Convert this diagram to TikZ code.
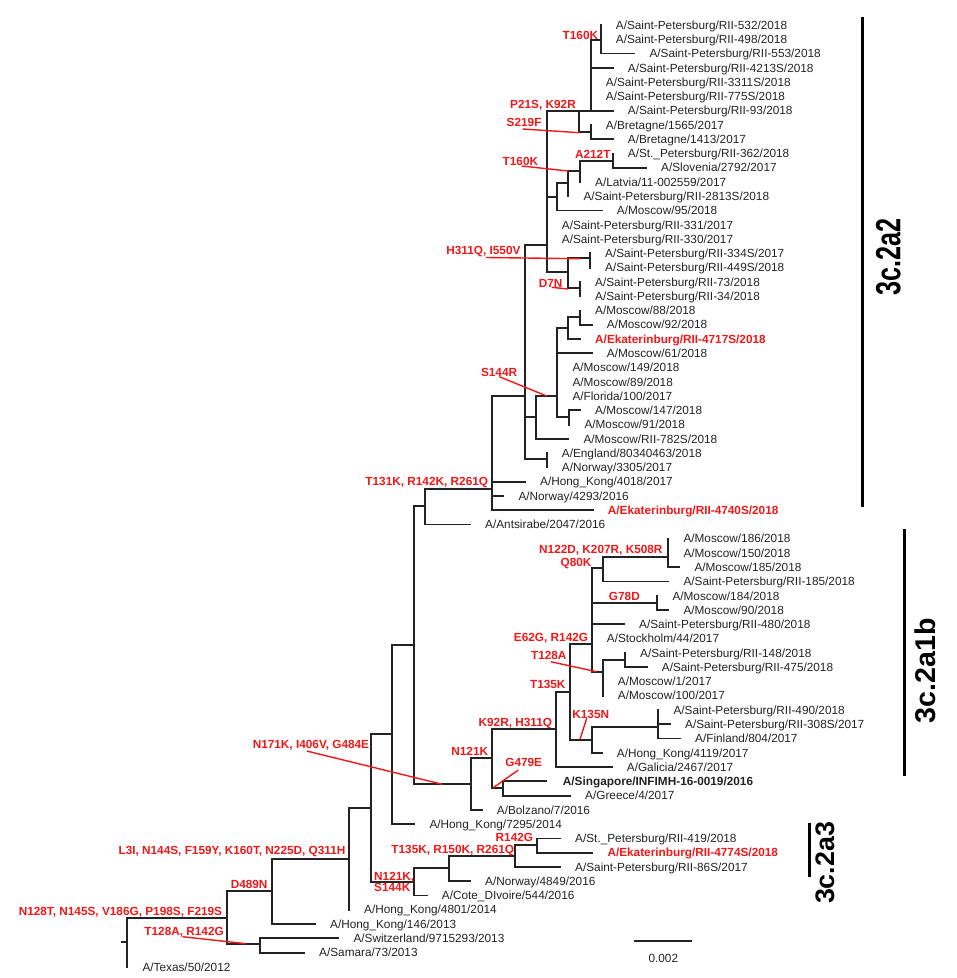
\documentclass[tikz,border=0pt]{standalone}
\usepackage{fontspec}
\setmainfont{Liberation Sans}
\definecolor{mutred}{RGB}{240,24,24}
\definecolor{treegray}{RGB}{35,35,35}
\begin{document}
\begin{tikzpicture}[x=1pt,y=-1pt,
  branch/.style={draw=treegray,line width=1.8pt,line cap=rect},
  leaf/.style={anchor=west,inner sep=0pt,text height=8.4pt,text depth=0pt,text=treegray,font=\fontsize{11.8}{14}\selectfont},
  leafred/.style={leaf,text=mutred,font=\fontsize{11.8}{14}\selectfont\bfseries},
  leafbold/.style={leaf,font=\fontsize{11.8}{14}\selectfont\bfseries},
  mut/.style={anchor=east,inner sep=0pt,text height=8.4pt,text depth=0pt,text=mutred,font=\fontsize{11.8}{14}\selectfont\bfseries},
  mutline/.style={draw=mutred,line width=1.4pt},
  cladebar/.style={draw=black,line width=3pt},
  cladetext/.style={rotate=90,inner sep=0pt,text=black}]
\useasboundingbox (0,0) rectangle (957,978);
% ---------- internal nodes ----------
\coordinate (stub) at (121.7,942);
\coordinate (nRoot) at (127.3,942);
\coordinate (nAR) at (227.3,918);
\coordinate (nAS) at (260,944);
\coordinate (nAQ) at (271.7,891);
\coordinate (nAL) at (349,858.7);
\coordinate (nAK) at (370.7,807.7);
\coordinate (nAM) at (414.3,881.7);
\coordinate (nAN) at (449,868.3);
\coordinate (nAO) at (515,856);
\coordinate (nAP) at (536.7,845);
\coordinate (nAI) at (392.3,734);
\coordinate (nAH) at (414.3,645);
\coordinate (nAG) at (425,506);
\coordinate (nAF) at (491.7,489);
\coordinate (nX) at (525,396);
\coordinate (nAE) at (546.7,459.3);
\coordinate (nAC) at (535.7,417.3);
\coordinate (nAA) at (557.3,396);
\coordinate (nY) at (568.3,328);
\coordinate (nZ) at (580,317);
\coordinate (nAB) at (569.3,417);
\coordinate (nG) at (546.7,245);
\coordinate (nP) at (579.3,110.6);
\coordinate (nQ) at (590.7,110.6);
\coordinate (nT160) at (600.7,40);
\coordinate (nBret) at (590.7,132);
\coordinate (nT) at (557.3,197);
\coordinate (nS) at (568.3,183);
\coordinate (nR) at (580,171);
\coordinate (nA212) at (612.7,161);
\coordinate (nU) at (568.3,271.7);
\coordinate (nV) at (590,258.3);
\coordinate (nW) at (580,288);
\coordinate (nAJ) at (470.7,784);
\coordinate (nAU) at (492.3,758.3);
\coordinate (nAW) at (503.3,787.7);
\coordinate (nAV) at (556,729.3);
\coordinate (nAX) at (570,691.7);
\coordinate (nBC) at (591.7,644);
\coordinate (nBB) at (602.7,568.3);
\coordinate (nBA) at (668.3,556.7);
\coordinate (nBF) at (657.3,602.7);
\coordinate (nBD) at (602.7,672);
\coordinate (nBE) at (625,660);
\coordinate (nAZ) at (591.7,740);
\coordinate (nBG) at (658.3,726.7);
% ---------- tips ----------
\coordinate (t1) at (600.7,25.0);
\coordinate (t2) at (600.7,39.3);
\coordinate (t3) at (634.3,53.5);
\coordinate (t4) at (612.7,67.8);
\coordinate (t5) at (590.7,82.1);
\coordinate (t6) at (590.7,96.4);
\coordinate (t7) at (612.7,110.6);
\coordinate (t8) at (590.7,124.9);
\coordinate (t9) at (612.7,139.2);
\coordinate (t10) at (612.7,153.4);
\coordinate (t11) at (646,167.7);
\coordinate (t12) at (580,182.0);
\coordinate (t13) at (568.3,196.2);
\coordinate (t14) at (601.7,210.5);
\coordinate (t15) at (546.7,224.8);
\coordinate (t16) at (546.7,239.1);
\coordinate (t17) at (590,253.3);
\coordinate (t18) at (590,267.6);
\coordinate (t19) at (580,281.9);
\coordinate (t20) at (580,296.1);
\coordinate (t21) at (580,310.4);
\coordinate (t22) at (591.7,324.7);
\coordinate (t23) at (580,338.9);
\coordinate (t24) at (591.7,353.2);
\coordinate (t25) at (557.3,367.5);
\coordinate (t26) at (557.3,381.8);
\coordinate (t27) at (557.3,396.0);
\coordinate (t28) at (580,410.3);
\coordinate (t29) at (569.3,424.6);
\coordinate (t30) at (568.3,438.8);
\coordinate (t31) at (546.7,453.1);
\coordinate (t32) at (546.7,467.4);
\coordinate (t33) at (525,481.6);
\coordinate (t34) at (503.3,495.9);
\coordinate (t35) at (592.7,510.2);
\coordinate (t36) at (470,524.5);
\coordinate (t37) at (668.3,538.7);
\coordinate (t38) at (668.3,553.0);
\coordinate (t39) at (679.3,567.3);
\coordinate (t40) at (668.3,581.5);
\coordinate (t41) at (657.3,595.8);
\coordinate (t42) at (668.3,610.1);
\coordinate (t43) at (624,624.3);
\coordinate (t44) at (591.7,638.6);
\coordinate (t45) at (625,652.9);
\coordinate (t46) at (646.7,667.2);
\coordinate (t47) at (602.7,681.4);
\coordinate (t48) at (602.7,695.7);
\coordinate (t49) at (658.3,710.0);
\coordinate (t50) at (670,724.2);
\coordinate (t51) at (680,738.5);
\coordinate (t52) at (601.7,752.8);
\coordinate (t53) at (611.7,767.0);
\coordinate (t54) at (545.7,781.3);
\coordinate (t55) at (570,795.6);
\coordinate (t56) at (481.7,809.9);
\coordinate (t57) at (414.3,824.1);
\coordinate (t58) at (560,838.4);
\coordinate (t59) at (592.3,852.7);
\coordinate (t60) at (560,866.9);
\coordinate (t61) at (470,881.2);
\coordinate (t62) at (426.7,895.5);
\coordinate (t63) at (349,909.7);
\coordinate (t64) at (315,924.0);
\coordinate (t65) at (338.3,938.3);
\coordinate (t66) at (304,952.6);
\coordinate (t67) at (127.3,966.8);
% ---------- branches ----------
\draw[branch] (stub) -- (nRoot);
\draw[branch] (nRoot) |- (nAR) (nRoot) |- (t67);
\draw[branch] (nAR) |- (nAQ) (nAR) |- (nAS);
\draw[branch] (nAS) |- (t65) (nAS) |- (t66);
\draw[branch] (nAQ) |- (nAL) (nAQ) |- (t64);
\draw[branch] (nAL) |- (nAK) (nAL) |- (t63);
\draw[branch] (nAK) |- (nAI) (nAK) |- (nAM);
\draw[branch] (nAM) |- (nAN) (nAM) |- (t62);
\draw[branch] (nAN) |- (nAO) (nAN) |- (t61);
\draw[branch] (nAO) |- (nAP) (nAO) |- (t60);
\draw[branch] (nAP) |- (t58) (nAP) |- (t59);
\draw[branch] (nAI) |- (nAH) (nAI) |- (t57);
\draw[branch] (nAH) |- (nAG) (nAH) |- (nAJ);
\draw[branch] (nAG) |- (nAF) (nAG) |- (t36);
\draw[branch] (nAF) |- (nX) (nAF) |- (t33) (nAF) |- (t34) (nAF) |- (t35);
\draw[branch] (nX) |- (nG) (nX) |- (nAC) (nX) |- (nAE);
\draw[branch] (nAE) |- (t31) (nAE) |- (t32);
\draw[branch] (nAC) |- (nAA) (nAC) |- (t30);
\draw[branch] (nAA) |- (nY) (nAA) |- (t24) (nAA) |- (t25) (nAA) |- (t26) (nAA) |- (t27) (nAA) |- (nAB);
\draw[branch] (nY) |- (nZ) (nY) |- (t23);
\draw[branch] (nZ) |- (t21) (nZ) |- (t22);
\draw[branch] (nAB) |- (t28) (nAB) |- (t29);
\draw[branch] (nG) |- (nP) (nG) |- (nT) (nG) |- (t15) (nG) |- (t16) (nG) |- (nU);
\draw[branch] (nP) |- (nQ) (nP) |- (nBret);
\draw[branch] (nQ) |- (nT160) (nQ) |- (t4) (nQ) |- (t5) (nQ) |- (t6) (nQ) |- (t7);
\draw[branch] (nT160) |- (t1) (nT160) |- (t2) (nT160) |- (t3);
\draw[branch] (nBret) |- (t8) (nBret) |- (t9);
\draw[branch] (nT) |- (nS) (nT) |- (t14);
\draw[branch] (nS) |- (nR) (nS) |- (t13);
\draw[branch] (nR) |- (nA212) (nR) |- (t12);
\draw[branch] (nA212) |- (t10) (nA212) |- (t11);
\draw[branch] (nU) |- (nV) (nU) |- (nW);
\draw[branch] (nV) |- (t17) (nV) |- (t18);
\draw[branch] (nW) |- (t19) (nW) |- (t20);
\draw[branch] (nAJ) |- (nAU) (nAJ) |- (t56);
\draw[branch] (nAU) |- (nAV) (nAU) |- (nAW);
\draw[branch] (nAW) |- (t54) (nAW) |- (t55);
\draw[branch] (nAV) |- (nAX) (nAV) |- (t53);
\draw[branch] (nAX) |- (nBC) (nAX) |- (nAZ);
\draw[branch] (nBC) |- (nBB) (nBC) |- (nBF) (nBC) |- (t43) (nBC) |- (t44) (nBC) |- (nBD);
\draw[branch] (nBB) |- (nBA) (nBB) |- (t40);
\draw[branch] (nBA) |- (t37) (nBA) |- (t38) (nBA) |- (t39);
\draw[branch] (nBF) |- (t41) (nBF) |- (t42);
\draw[branch] (nBD) |- (nBE) (nBD) |- (t47) (nBD) |- (t48);
\draw[branch] (nBE) |- (t45) (nBE) |- (t46);
\draw[branch] (nAZ) |- (nBG) (nAZ) |- (t52);
\draw[branch] (nBG) |- (t49) (nBG) |- (t50) (nBG) |- (t51);
% ---------- leaf labels ----------
\node[leaf] (L1) at ([xshift=15pt]t1) {A/Saint-Petersburg/RII-532/2018};
\node[leaf] (L2) at ([xshift=15pt]t2) {A/Saint-Petersburg/RII-498/2018};
\node[leaf] (L3) at ([xshift=15pt]t3) {A/Saint-Petersburg/RII-553/2018};
\node[leaf] (L4) at ([xshift=15pt]t4) {A/Saint-Petersburg/RII-4213S/2018};
\node[leaf] (L5) at ([xshift=15pt]t5) {A/Saint-Petersburg/RII-3311S/2018};
\node[leaf] (L6) at ([xshift=15pt]t6) {A/Saint-Petersburg/RII-775S/2018};
\node[leaf] (L7) at ([xshift=15pt]t7) {A/Saint-Petersburg/RII-93/2018};
\node[leaf] (L8) at ([xshift=15pt]t8) {A/Bretagne/1565/2017};
\node[leaf] (L9) at ([xshift=15pt]t9) {A/Bretagne/1413/2017};
\node[leaf] (L10) at ([xshift=15pt]t10) {A/St.\_Petersburg/RII-362/2018};
\node[leaf] (L11) at ([xshift=15pt]t11) {A/Slovenia/2792/2017};
\node[leaf] (L12) at ([xshift=15pt]t12) {A/Latvia/11-002559/2017};
\node[leaf] (L13) at ([xshift=15pt]t13) {A/Saint-Petersburg/RII-2813S/2018};
\node[leaf] (L14) at ([xshift=15pt]t14) {A/Moscow/95/2018};
\node[leaf] (L15) at ([xshift=15pt]t15) {A/Saint-Petersburg/RII-331/2017};
\node[leaf] (L16) at ([xshift=15pt]t16) {A/Saint-Petersburg/RII-330/2017};
\node[leaf] (L17) at ([xshift=15pt]t17) {A/Saint-Petersburg/RII-334S/2017};
\node[leaf] (L18) at ([xshift=15pt]t18) {A/Saint-Petersburg/RII-449S/2018};
\node[leaf] (L19) at ([xshift=15pt]t19) {A/Saint-Petersburg/RII-73/2018};
\node[leaf] (L20) at ([xshift=15pt]t20) {A/Saint-Petersburg/RII-34/2018};
\node[leaf] (L21) at ([xshift=15pt]t21) {A/Moscow/88/2018};
\node[leaf] (L22) at ([xshift=15pt]t22) {A/Moscow/92/2018};
\node[leafred] (L23) at ([xshift=15pt]t23) {A/Ekaterinburg/RII-4717S/2018};
\node[leaf] (L24) at ([xshift=15pt]t24) {A/Moscow/61/2018};
\node[leaf] (L25) at ([xshift=15pt]t25) {A/Moscow/149/2018};
\node[leaf] (L26) at ([xshift=15pt]t26) {A/Moscow/89/2018};
\node[leaf] (L27) at ([xshift=15pt]t27) {A/Florida/100/2017};
\node[leaf] (L28) at ([xshift=15pt]t28) {A/Moscow/147/2018};
\node[leaf] (L29) at ([xshift=15pt]t29) {A/Moscow/91/2018};
\node[leaf] (L30) at ([xshift=15pt]t30) {A/Moscow/RII-782S/2018};
\node[leaf] (L31) at ([xshift=15pt]t31) {A/England/80340463/2018};
\node[leaf] (L32) at ([xshift=15pt]t32) {A/Norway/3305/2017};
\node[leaf] (L33) at ([xshift=15pt]t33) {A/Hong\_Kong/4018/2017};
\node[leaf] (L34) at ([xshift=15pt]t34) {A/Norway/4293/2016};
\node[leafred] (L35) at ([xshift=15pt]t35) {A/Ekaterinburg/RII-4740S/2018};
\node[leaf] (L36) at ([xshift=15pt]t36) {A/Antsirabe/2047/2016};
\node[leaf] (L37) at ([xshift=15pt]t37) {A/Moscow/186/2018};
\node[leaf] (L38) at ([xshift=15pt]t38) {A/Moscow/150/2018};
\node[leaf] (L39) at ([xshift=15pt]t39) {A/Moscow/185/2018};
\node[leaf] (L40) at ([xshift=15pt]t40) {A/Saint-Petersburg/RII-185/2018};
\node[leaf] (L41) at ([xshift=15pt]t41) {A/Moscow/184/2018};
\node[leaf] (L42) at ([xshift=15pt]t42) {A/Moscow/90/2018};
\node[leaf] (L43) at ([xshift=15pt]t43) {A/Saint-Petersburg/RII-480/2018};
\node[leaf] (L44) at ([xshift=15pt]t44) {A/Stockholm/44/2017};
\node[leaf] (L45) at ([xshift=15pt]t45) {A/Saint-Petersburg/RII-148/2018};
\node[leaf] (L46) at ([xshift=15pt]t46) {A/Saint-Petersburg/RII-475/2018};
\node[leaf] (L47) at ([xshift=15pt]t47) {A/Moscow/1/2017};
\node[leaf] (L48) at ([xshift=15pt]t48) {A/Moscow/100/2017};
\node[leaf] (L49) at ([xshift=15pt]t49) {A/Saint-Petersburg/RII-490/2018};
\node[leaf] (L50) at ([xshift=15pt]t50) {A/Saint-Petersburg/RII-308S/2017};
\node[leaf] (L51) at ([xshift=15pt]t51) {A/Finland/804/2017};
\node[leaf] (L52) at ([xshift=15pt]t52) {A/Hong\_Kong/4119/2017};
\node[leaf] (L53) at ([xshift=15pt]t53) {A/Galicia/2467/2017};
\node[leafbold] (L54) at ([xshift=17pt]t54) {A/Singapore/INFIMH-16-0019/2016};
\node[leaf] (L55) at ([xshift=15pt]t55) {A/Greece/4/2017};
\node[leaf] (L56) at ([xshift=15pt]t56) {A/Bolzano/7/2016};
\node[leaf] (L57) at ([xshift=15pt]t57) {A/Hong\_Kong/7295/2014};
\node[leaf] (L58) at ([xshift=15pt]t58) {A/St.\_Petersburg/RII-419/2018};
\node[leafred] (L59) at ([xshift=15pt]t59) {A/Ekaterinburg/RII-4774S/2018};
\node[leaf] (L60) at ([xshift=15pt]t60) {A/Saint-Petersburg/RII-86S/2017};
\node[leaf] (L61) at ([xshift=15pt]t61) {A/Norway/4849/2016};
\node[leaf] (L62) at ([xshift=15pt]t62) {A/Cote\_DIvoire/544/2016};
\node[leaf] (L63) at ([xshift=15pt]t63) {A/Hong\_Kong/4801/2014};
\node[leaf] (L64) at ([xshift=15pt]t64) {A/Hong\_Kong/146/2013};
\node[leaf] (L65) at ([xshift=15pt]t65) {A/Switzerland/9715293/2013};
\node[leaf] (L66) at ([xshift=15pt]t66) {A/Samara/73/2013};
\node[leaf] (L67) at ([xshift=15pt]t67) {A/Texas/50/2012};
% ---------- mutation labels ----------
\node[mut] (m1) at (598.3,35) {T160K};
\node[mut] (m2) at (576,104.3) {P21S, K92R};
\node[mut] (m3) at (541.7,122.7) {S219F};
\node[mut] (m4) at (610.7,154) {A212T};
\node[mut] (m5) at (538.3,161) {T160K};
\node[mut] (m6) at (520.7,250) {H311Q, I550V};
\node[mut] (m7) at (562.7,283) {D7N};
\node[mut] (m8) at (517.3,372.3) {S144R};
\node[mut] (m9) at (488.3,481) {T131K, R142K, R261Q};
\node[mut] (m10) at (662.7,549) {N122D, K207R, K508R};
\node[mut] (m11) at (591.7,562.7) {Q80K};
\node[mut] (m12) at (640,596) {G78D};
\node[mut] (m13) at (588.3,637.3) {E62G, R142G};
\node[mut] (m14) at (566.7,655) {T128A};
\node[mut] (m15) at (565.7,684) {T135K};
\node[mut] (m16) at (609.3,714) {K135N};
\node[mut] (m17) at (552.3,722.3) {K92R, H311Q};
\node[mut] (m18) at (488.3,751.7) {N121K};
\node[mut] (m19) at (542.3,762.7) {G479E};
\node[mut] (m20) at (369.3,744) {N171K, I406V, G484E};
\node[mut] (m21) at (533.3,837) {R142G};
\node[mut] (m22) at (514.3,849) {T135K, R150K, R261Q};
\node[mut,anchor=west] (m23) at (374,876) {N121K,};
\node[mut,anchor=west] (m24) at (374,887.7) {S144K};
\node[mut] (m25) at (345.7,850.7) {L3I, N144S, F159Y, K160T, N225D, Q311H};
\node[mut] (m26) at (267.7,884) {D489N};
\node[mut] (m27) at (222.3,911) {N128T, N145S, V186G, P198S, F219S};
\node[mut] (m28) at (224,931.7) {T128A, R142G};
% ---------- mutation pointer lines ----------
\coordinate (r3a) at (522.7,129);   \coordinate (r3b) at (579.3,132.7);
\coordinate (r5a) at (521.7,166);   \coordinate (r5b) at (568.3,171);
\coordinate (r6a) at (486,257.5);   \coordinate (r6b) at (580,258.7);
\coordinate (r7a) at (551.7,287.3); \coordinate (r7b) at (568.3,289);
\coordinate (r8a) at (499.3,376.7); \coordinate (r8b) at (546.7,396);
\coordinate (r14a) at (550.7,661.7); \coordinate (r14b) at (596.7,671.7);
\coordinate (r16a) at (586.7,718.3); \coordinate (r16b) at (580,739.3);
\coordinate (r19a) at (518.3,770);  \coordinate (r19b) at (493.3,787.7);
\coordinate (r20a) at (306.7,751);  \coordinate (r20b) at (442.3,784.3);
\coordinate (r28a) at (182.7,936.7); \coordinate (r28b) at (246,943.7);
\draw[mutline] (r3a) -- (r3b);
\draw[mutline] (r5a) -- (r5b);
\draw[mutline] (r6a) -- (r6b);
\draw[mutline] (r7a) -- (r7b);
\draw[mutline] (r8a) -- (r8b);
\draw[mutline] (r14a) -- (r14b);
\draw[mutline] (r16a) -- (r16b);
\draw[mutline] (r19a) -- (r19b);
\draw[mutline] (r20a) -- (r20b);
\draw[mutline] (r28a) -- (r28b);
% ---------- scale bar ----------
\coordinate (sb1) at (634.3,941);
\coordinate (sb2) at (691.7,941);
\draw[branch,line cap=butt] (sb1) -- (sb2);
\node[inner sep=0pt,text height=8.4pt,text depth=0pt,text=treegray,font=\fontsize{11.8}{14}\selectfont] (sbl) at (663.3,958.3) {0.002};
% ---------- clade bars ----------
\coordinate (c1a) at (862.7,16.7);  \coordinate (c1b) at (862.7,506.7);
\coordinate (c2a) at (904.3,529);   \coordinate (c2b) at (904.3,776);
\coordinate (c3a) at (809,823.3);   \coordinate (c3b) at (809,876.7);
\draw[cladebar] (c1a) -- (c1b);
\draw[cladebar] (c2a) -- (c2b);
\draw[cladebar] (c3a) -- (c3b);
\node[cladetext,font=\fontsize{35}{35}\selectfont\bfseries] (k1) at (888.3,256.7) {\scalebox{0.72}[1]{3c.2a2}};
\node[cladetext,font=\fontsize{28.6}{30}\selectfont\bfseries] (k2) at (925,670.8) {3c.2a1b};
\node[cladetext,font=\fontsize{26.8}{28}\selectfont\bfseries] (k3) at (825,863) {3c.2a3};
\end{tikzpicture}
\end{document}
